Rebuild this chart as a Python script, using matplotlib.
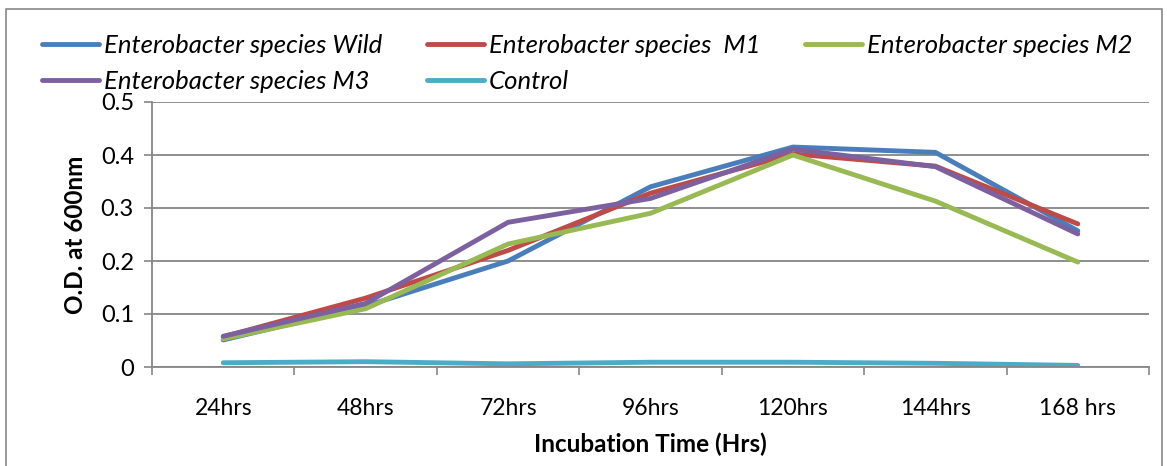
import matplotlib
matplotlib.use("Agg")
import matplotlib.pyplot as plt
from matplotlib.patches import Rectangle
import numpy as np

categories = ["24hrs", "48hrs", "72hrs", "96hrs", "120hrs", "144hrs", "168 hrs"]
wild = [0.051, 0.115, 0.200, 0.340, 0.415, 0.405, 0.257]
m1 = [0.057, 0.130, 0.220, 0.328, 0.402, 0.379, 0.270]
m2 = [0.053, 0.110, 0.232, 0.290, 0.400, 0.313, 0.198]
m3 = [0.058, 0.120, 0.273, 0.318, 0.411, 0.378, 0.251]
control = [0.008, 0.010, 0.006, 0.009, 0.009, 0.007, 0.003]

series_names = ["Enterobacter species Wild", "Enterobacter species  M1",
                "Enterobacter species M2", "Enterobacter species M3", "Control"]
colors = ["#4A7EBB", "#BE4B48", "#98B954", "#7D60A0", "#4BACC6"]

font = ["Lato", "DejaVu Sans"]
plt.rcParams['font.family'] = font

W, H = 1167, 466
fig = plt.figure(figsize=(W / 100, H / 100), dpi=100)
fig.patches.append(Rectangle((6 / W, -0.1), (1162 - 6) / W, 1 - 9 / H + 0.1,
                             transform=fig.transFigure, fill=False,
                             edgecolor="#888888", lw=1.2))

ax = fig.add_axes([152 / W, 1 - 367 / H, (1149 - 152) / W, (367 - 102) / H])
x = np.arange(len(categories))
handles = []
for vals, name, c in zip([wild, m1, m2, m3, control], series_names, colors):
    h, = ax.plot(x, vals, color=c, lw=3.5, solid_capstyle="round",
                 solid_joinstyle="round", label=name)
    handles.append(h)

ax.set_xlim(-0.5, len(categories) - 0.5)
ax.set_ylim(0, 0.5)
ax.set_yticks([0, 0.1, 0.2, 0.3, 0.4, 0.5])
ax.set_yticklabels(["0", "0.1", "0.2", "0.3", "0.4", "0.5"], fontsize=17)
ax.yaxis.grid(True, color="#868686", lw=1.3)
ax.set_axisbelow(True)

ax.set_xticks(x)
ax.set_xticklabels(categories, fontsize=16.5)
ax.set_xticks(np.arange(-0.5, len(categories)), minor=True)
ax.tick_params(axis="x", which="major", length=0, pad=22)
ax.tick_params(axis="x", which="minor", length=6, color="#868686", width=1.2, direction="out")
ax.tick_params(axis="y", length=6, color="#868686", width=1.2, direction="out", pad=7)

for s in ["top", "right"]:
    ax.spines[s].set_visible(False)
for s in ["left", "bottom"]:
    ax.spines[s].set_color("#868686")
    ax.spines[s].set_linewidth(1.3)

ax.set_xlabel("Incubation Time (Hrs)", fontsize=17.5, fontweight="bold", labelpad=10)
ax.set_ylabel("O.D. at 600nm", fontsize=17.5, fontweight="bold", labelpad=10)

order = [0, 3, 1, 4, 2]
leg = fig.legend(handles=[handles[i] for i in order],
                 labels=[series_names[i] for i in order], ncol=3,
                 loc="upper left", bbox_to_anchor=(19 / W, 1 - 11 / H),
                 frameon=False, handlelength=2.2, handletextpad=0.2,
                 columnspacing=1.75, labelspacing=0.5,
                 prop={"family": font, "style": "italic", "size": 18.5})

fig.savefig("out.png", dpi=100)
